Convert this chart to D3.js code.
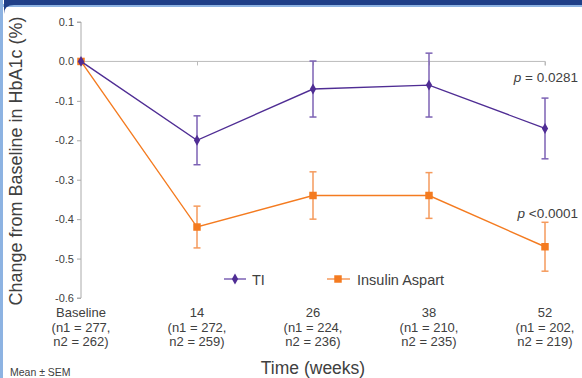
<!DOCTYPE html>
<html>
<head>
<meta charset="utf-8">
<script src="https://cdn.jsdelivr.net/npm/d3@7"></script>
<style>
  body { margin: 0; background: #fff; }
  svg { display: block; font-family: Arial, "Liberation Sans", sans-serif; }
</style>
</head>
<body>
<svg width="582" height="378"></svg>
<script>
// chart values
var categories = ["Baseline", "14", "26", "38", "52"];
var nLines1 = ["(n1 = 277,", "(n1 = 272,", "(n1 = 224,", "(n1 = 210,", "(n1 = 202,"];
var nLines2 = ["n2 = 262)", "n2 = 259)", "n2 = 236)", "n2 = 235)", "n2 = 219)"];
var tiMean = [0, -0.20, -0.07, -0.06, -0.17];
var tiSem = [0, 0.062, 0.071, 0.081, 0.077];
var aspMean = [0, -0.42, -0.34, -0.34, -0.47];
var aspSem = [0, 0.053, 0.060, 0.058, 0.062];
var yTicks = [0.1, 0.0, -0.1, -0.2, -0.3, -0.4, -0.5, -0.6];

var svg = d3.select("svg");
var textCol = "#404040";

// frame
svg.append("rect").attr("x", 0).attr("y", 0).attr("width", 3).attr("height", 378).attr("fill", "#8db3e2");
svg.append("rect").attr("x", 0).attr("y", 4).attr("width", 582).attr("height", 3).attr("fill", "#8db3e2");
svg.append("path")
    .attr("d", "M0,0 H582 V5 H14 Q4,5 4,14 V0 Z")
    .attr("fill", "#1f3f88");

var x = d3.scalePoint().domain(categories).range([81, 545]);
var y = d3.scaleLinear().domain([-0.6, 0.1]).range([298, 22]);

// y axis
var yAxis = svg.append("g").attr("transform", "translate(81,0)")
    .call(d3.axisLeft(y).tickValues(yTicks).tickSize(4).tickPadding(3)
        .tickFormat(function(d) { return d3.format(".1f")(d).replace("−", "-"); }));
yAxis.select(".domain").attr("stroke", "#aaa").attr("d", "M-4," + y(0.1) + "H0V" + y(-0.6) + "H-4");
yAxis.selectAll(".tick line").attr("stroke", "#aaa");
yAxis.selectAll(".tick text").attr("fill", textCol).style("font-size", "11px");

// x axis along zero
var xAxis = svg.append("g").attr("transform", "translate(0," + y(0) + ")")
    .call(d3.axisBottom(x).tickSize(4).tickFormat(""));
xAxis.select(".domain").attr("stroke", "#bbb").attr("d", "M81,0H545V4");
xAxis.selectAll(".tick line").attr("stroke", "#bbb");

// category labels
var lab = svg.append("g").selectAll("text").data(categories).enter().append("text")
    .attr("x", function(d) { return x(d); })
    .attr("y", 317)
    .attr("text-anchor", "middle")
    .attr("fill", textCol)
    .style("font-size", "13px");
lab.append("tspan").attr("x", function(d) { return x(d); }).text(function(d) { return d; });
lab.append("tspan").attr("x", function(d) { return x(d); }).attr("dy", 14.5).text(function(d, i) { return nLines1[i]; });
lab.append("tspan").attr("x", function(d) { return x(d); }).attr("dy", 14.5).text(function(d, i) { return nLines2[i]; });

function drawSeries(mean, sem, lineColor, barColor, symbol, size) {
    var g = svg.append("g");
    var pts = categories.map(function(c, i) { return {c: c, m: mean[i], s: sem[i]}; });
    var bars = pts.filter(function(d) { return d.s > 0; });
    g.selectAll("line.eb").data(bars).enter().append("line")
        .attr("x1", function(d) { return x(d.c); }).attr("x2", function(d) { return x(d.c); })
        .attr("y1", function(d) { return y(d.m + d.s); }).attr("y2", function(d) { return y(d.m - d.s); })
        .attr("stroke", barColor).attr("stroke-width", 1.5);
    [1, -1].forEach(function(sg) {
        g.selectAll("line.cap" + sg).data(bars).enter().append("line")
            .attr("x1", function(d) { return x(d.c) - 3.5; }).attr("x2", function(d) { return x(d.c) + 3.5; })
            .attr("y1", function(d) { return y(d.m + sg * d.s); }).attr("y2", function(d) { return y(d.m + sg * d.s); })
            .attr("stroke", barColor).attr("stroke-width", 1.5);
    });
    g.append("path").datum(pts)
        .attr("d", d3.line().x(function(d) { return x(d.c); }).y(function(d) { return y(d.m); }))
        .attr("fill", "none").attr("stroke", lineColor).attr("stroke-width", 1.4);
    g.selectAll("path.pt").data(pts).enter().append("path")
        .attr("transform", function(d) { return "translate(" + x(d.c) + "," + y(d.m) + ")"; })
        .attr("d", d3.symbol().type(symbol).size(size))
        .attr("fill", lineColor);
    return g;
}

drawSeries(aspMean, aspSem, "#f47b20", "#f59a5c", d3.symbolSquare, 56);
drawSeries(tiMean, tiSem, "#4f2d94", "#7c62b4", d3.symbolDiamond, 34);

// p values
function pText(yy, rest) {
    var t = svg.append("text").attr("x", 578).attr("y", yy).attr("text-anchor", "end")
        .attr("fill", textCol).style("font-size", "13.5px");
    t.append("tspan").style("font-style", "italic").text("p");
    t.append("tspan").text(rest);
}
pText(82, " = 0.0281");
pText(218, " <0.0001");

// legend
var leg = svg.append("g");
leg.append("line").attr("x1", 224).attr("x2", 246).attr("y1", 279).attr("y2", 279).attr("stroke", "#7c62b4").attr("stroke-width", 1.5);
leg.append("path").attr("transform", "translate(235,279)").attr("d", d3.symbol().type(d3.symbolDiamond).size(34)).attr("fill", "#4f2d94");
leg.append("text").attr("x", 252).attr("y", 284.5).attr("fill", textCol).style("font-size", "14.5px").text("TI");
leg.append("line").attr("x1", 327).attr("x2", 350).attr("y1", 279).attr("y2", 279).attr("stroke", "#f59a5c").attr("stroke-width", 1.5);
leg.append("path").attr("transform", "translate(338,279)").attr("d", d3.symbol().type(d3.symbolSquare).size(56)).attr("fill", "#f47b20");
leg.append("text").attr("x", 357).attr("y", 284.5).attr("fill", textCol).style("font-size", "14.5px").text("Insulin Aspart");

// titles
svg.append("text").attr("transform", "translate(22,161) rotate(-90)")
    .attr("text-anchor", "middle").attr("fill", textCol).style("font-size", "18px")
    .text("Change from Baseline in HbA1c (%)");
svg.append("text").attr("x", 313).attr("y", 374).attr("text-anchor", "middle")
    .attr("fill", textCol).style("font-size", "17.5px").text("Time (weeks)");
svg.append("text").attr("x", 10).attr("y", 376).attr("fill", textCol)
    .style("font-size", "10.5px").text("Mean ± SEM");
</script>
</body>
</html>
